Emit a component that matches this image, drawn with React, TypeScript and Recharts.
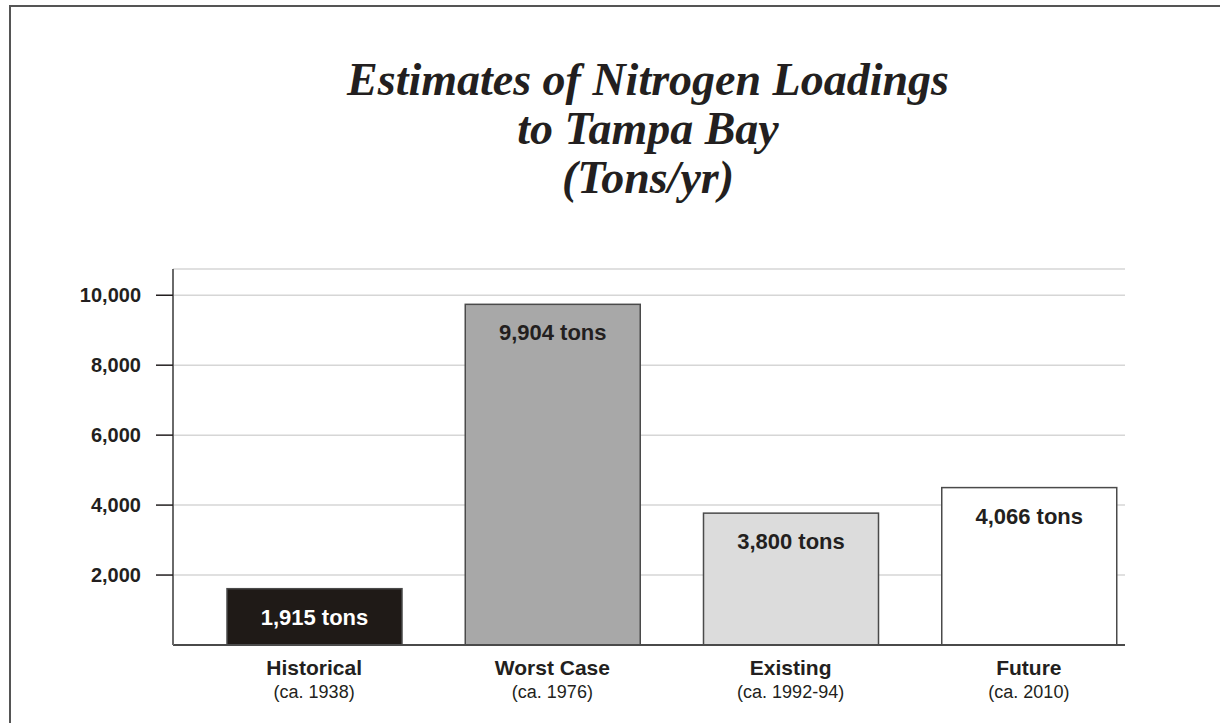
import { BarChart, Bar, XAxis, YAxis, CartesianGrid, LabelList } from 'recharts';

const periods = ['Historical', 'Worst Case', 'Existing', 'Future'];
const periodYears = ['(ca. 1938)', '(ca. 1976)', '(ca. 1992-94)', '(ca. 2010)'];
// bar heights as drawn in the picture
const loadings = [1610, 9740, 3770, 4500];
// figures printed on the bars
const loadingLabels = ['1,915 tons', '9,904 tons', '3,800 tons', '4,066 tons'];
const yTicks = [2000, 4000, 6000, 8000, 10000];
const titleLines = ['Estimates of Nitrogen Loadings', 'to Tampa Bay', '(Tons/yr)'];

const barFills = ['#1f1a17', '#a8a8a8', '#dcdcdc', '#ffffff'];
const labelFills = ['#ffffff', '#231f20', '#231f20', '#231f20'];

const data = periods.map((name, i) => ({
  name,
  years: periodYears[i],
  value: loadings[i],
  label: loadingLabels[i],
}));

const sans = '"Liberation Sans", Arial, sans-serif';
const ink = '#231f20';

const XTick = (props: any) => {
  const { x, y, payload, index } = props;
  return (
    <g>
      <text x={x} y={y + 30} textAnchor="middle" fontFamily={sans} fontWeight="bold" fontSize={21} fill={ink}>
        {payload.value}
      </text>
      <text x={x} y={y + 53} textAnchor="middle" fontFamily={sans} fontSize={18} fill={ink}>
        {periodYears[index]}
      </text>
    </g>
  );
};

const BarLabel = (props: any) => {
  const { x, y, width, index } = props;
  return (
    <text x={x + width / 2} y={y + 36} textAnchor="middle" fontFamily={sans} fontWeight="bold" fontSize={22} fill={labelFills[index]}>
      {loadingLabels[index]}
    </text>
  );
};

export default function App() {
  return (
    <div style={{ position: 'absolute', left: 0, top: 0, width: 1220, height: 723, background: '#fff', overflow: 'hidden' }}>
      <div style={{ position: 'absolute', left: 9, top: 5, width: 1220, height: 730, borderTop: '2px solid #555', borderLeft: '2px solid #555' }} />
      <div
        style={{
          position: 'absolute',
          left: 248,
          top: 55,
          width: 800,
          textAlign: 'center',
          fontFamily: '"Liberation Serif", "Times New Roman", serif',
          fontWeight: 'bold',
          fontStyle: 'italic',
          fontSize: 46,
          lineHeight: '49px',
          color: ink,
        }}
      >
        {titleLines.map((t) => (
          <div key={t}>{t}</div>
        ))}
      </div>
      <div style={{ position: 'absolute', left: 0, top: 0 }}>
        <BarChart width={1220} height={723} data={data} margin={{ top: 269, right: 95, bottom: 18, left: 73 }} barSize={175}>
          <CartesianGrid vertical={false} stroke="#d6d6d6" strokeWidth={1.5} />
          <XAxis
            dataKey="name"
            height={60}
            tickLine={false}
            tickSize={0}
            tickMargin={0}
            axisLine={{ stroke: '#4a4a4a', strokeWidth: 2 }}
            padding={{ left: 22, right: -23 }}
            tick={<XTick />}
            interval={0}
          />
          <YAxis
            width={100}
            domain={[0, 10750]}
            ticks={yTicks}
            tickSize={17}
            tickMargin={15}
            tickLine={{ stroke: '#231f20', strokeWidth: 1.5 }}
            axisLine={{ stroke: '#6a6a6a', strokeWidth: 2 }}
            tick={{ fontFamily: sans, fontWeight: 'bold', fontSize: 20, fill: ink }}
            tickFormatter={(v: number) => v.toLocaleString('en-US')}
          />
          <Bar dataKey="value" isAnimationActive={false} stroke="#4a4a4a" strokeWidth={1.5} shape={(p: any) => (
            <rect x={p.x} y={p.y} width={p.width} height={p.height} fill={barFills[p.index]} stroke="#4a4a4a" strokeWidth={1.5} />
          )}>
            <LabelList dataKey="label" content={<BarLabel />} />
          </Bar>
        </BarChart>
      </div>
    </div>
  );
}
